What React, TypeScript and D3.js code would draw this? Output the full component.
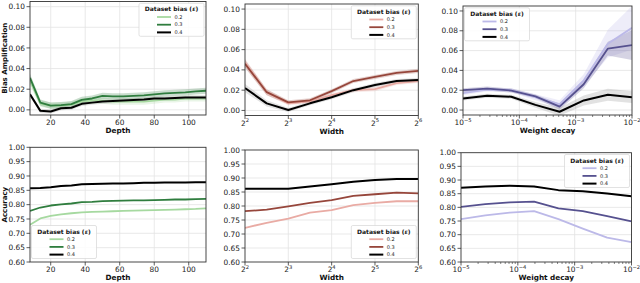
import React, { useEffect, useRef } from 'react';
import * as d3 from 'd3';

// x values
const depths = [8, 14, 20, 26, 32, 38, 44, 50, 56, 62, 68, 74, 80, 86, 92, 98, 104, 110];
const widths = [4, 5.66, 8, 11.31, 16, 22.63, 32, 45.25, 64];
const decays = [1e-5, 2.68e-5, 7.2e-5, 1.93e-4, 5.18e-4, 1.39e-3, 3.73e-3, 1e-2];

const biasLabels = ['0.2', '0.3', '0.4'];
const ampTicks = [0, 0.02, 0.04, 0.06, 0.08, 0.1];
const accTicks = [0.6, 0.65, 0.7, 0.75, 0.8, 0.85, 0.9, 0.95, 1.0];
const depthTicks = [20, 40, 60, 80, 100];
const widthTicks = [2, 3, 4, 5, 6];
const decayTicks = [-5, -4, -3, -2];

// bias amplification vs depth
const ampDepth02 = [0.028, 0.006, 0.004, 0.004, 0.005, 0.008, 0.009, 0.009, 0.008, 0.008, 0.008, 0.008, 0.009, 0.010, 0.010, 0.011, 0.011, 0.011];
const ampDepth03 = [0.031, 0.007, 0.004, 0.0045, 0.0055, 0.0097, 0.011, 0.0135, 0.013, 0.013, 0.0135, 0.014, 0.015, 0.016, 0.0165, 0.017, 0.0178, 0.0185];
const ampDepth04 = [0.015, -0.001, -0.0016, 0.0016, 0.002, 0.0058, 0.007, 0.008, 0.0085, 0.009, 0.0095, 0.010, 0.011, 0.011, 0.0115, 0.012, 0.012, 0.012];
const ampDepthErr = [0.004, 0.003, 0.003, 0.003, 0.003, 0.003, 0.003, 0.003, 0.003, 0.003, 0.003, 0.003, 0.003, 0.003, 0.003, 0.003, 0.003, 0.003];
const ampDepthErr04 = [0.002, 0.002, 0.002, 0.002, 0.002, 0.002, 0.002, 0.002, 0.002, 0.002, 0.002, 0.002, 0.002, 0.002, 0.002, 0.002, 0.002, 0.002];

// bias amplification vs width
const ampWidth02 = [0.047, 0.018, 0.007, 0.009, 0.015, 0.020, 0.021, 0.027, 0.029];
const ampWidth03 = [0.046, 0.018, 0.008, 0.010, 0.019, 0.029, 0.033, 0.037, 0.039];
const ampWidth04 = [0.022, 0.007, 0.0005, 0.007, 0.013, 0.020, 0.025, 0.029, 0.030];
const ampWidthErr = [0.004, 0.003, 0.002, 0.002, 0.002, 0.002, 0.002, 0.002, 0.002];

// bias amplification vs weight decay
const ampDecay02 = [0.017, 0.0207, 0.020, 0.013, 0.006, 0.030, 0.067, 0.083];
const ampDecay03 = [0.020, 0.0217, 0.0197, 0.0138, 0.0034, 0.026, 0.062, 0.0655];
const ampDecay04 = [0.0117, 0.0145, 0.0134, 0.0052, -0.0017, 0.0097, 0.0155, 0.013];
const ampDecayErr02 = [0.002, 0.002, 0.002, 0.003, 0.004, 0.006, 0.014, 0.022];
const ampDecayErr03 = [0.002, 0.002, 0.002, 0.002, 0.003, 0.004, 0.007, 0.015];
const ampDecayErr04 = [0.002, 0.002, 0.002, 0.003, 0.004, 0.005, 0.006, 0.006];

// accuracy vs depth
const accDepth02 = [0.730, 0.752, 0.761, 0.766, 0.770, 0.773, 0.775, 0.776, 0.777, 0.778, 0.779, 0.780, 0.781, 0.782, 0.783, 0.784, 0.785, 0.787];
const accDepth03 = [0.778, 0.790, 0.797, 0.801, 0.804, 0.809, 0.810, 0.812, 0.813, 0.814, 0.815, 0.815, 0.816, 0.817, 0.818, 0.818, 0.819, 0.820];
const accDepth04 = [0.857, 0.858, 0.861, 0.865, 0.867, 0.871, 0.872, 0.873, 0.874, 0.874, 0.875, 0.876, 0.876, 0.877, 0.877, 0.877, 0.878, 0.878];

// accuracy vs width
const accWidth02 = [0.722, 0.740, 0.755, 0.776, 0.785, 0.803, 0.811, 0.817, 0.817];
const accWidth03 = [0.7815, 0.787, 0.799, 0.811, 0.821, 0.836, 0.842, 0.848, 0.845];
const accWidth04 = [0.8615, 0.8615, 0.8615, 0.870, 0.878, 0.887, 0.8925, 0.896, 0.896];

// accuracy vs weight decay
const accDecay02 = [0.757, 0.771, 0.781, 0.786, 0.757, 0.722, 0.689, 0.673];
const accDecay03 = [0.802, 0.812, 0.818, 0.821, 0.796, 0.786, 0.768, 0.749];
const accDecay04 = [0.8716, 0.876, 0.879, 0.876, 0.863, 0.859, 0.851, 0.841];

const greens = ['#a6d9a0', '#2f7d3e', '#000000'];
const reds = ['#e9aba4', '#96463b', '#000000'];
const purples = ['#bcb9e8', '#56518f', '#000000'];

const FONT = 'DejaVu Sans, sans-serif';

function Figure() {
  const ref = useRef(null);

  useEffect(() => {
    const svg = d3.select(ref.current);
    svg.selectAll('*').remove();

    const panels = [
      { id: 'p1', box: [30, 206, 1.5, 115], xs: depths, kind: 'lin', xdom: [8, 110], ydom: [-0.005, 0.105], yTicks: ampTicks,
        series: [ampDepth02, ampDepth03, ampDepth04], errs: [ampDepthErr, ampDepthErr, ampDepthErr04], colors: greens, xlabel: 'Depth', ylabel: 'Bias Amplification', legend: 'tr' },
      { id: 'p2', box: [245, 418.3, 4, 115.5], xs: widths, kind: 'log2', xdom: [4, 64], ydom: [-0.005, 0.105], yTicks: ampTicks,
        series: [ampWidth02, ampWidth03, ampWidth04], errs: [ampWidthErr, ampWidthErr, ampWidthErr], colors: reds, xlabel: 'Width', legend: 'tr' },
      { id: 'p3', box: [463, 632, 6, 115], xs: decays, kind: 'log10', xdom: [1e-5, 1e-2], ydom: [-0.005, 0.105], yTicks: ampTicks,
        series: [ampDecay02, ampDecay03, ampDecay04], errs: [ampDecayErr02, ampDecayErr03, ampDecayErr04], colors: purples, xlabel: 'Weight decay', legend: 'tl' },
      { id: 'p4', box: [30, 206, 147.3, 262], xs: depths, kind: 'lin', xdom: [8, 110], ydom: [0.6, 1.0], yTicks: accTicks,
        series: [accDepth02, accDepth03, accDepth04], errs: null, colors: greens, xlabel: 'Depth', ylabel: 'Accuracy', legend: 'bl' },
      { id: 'p5', box: [245, 418.3, 150, 262], xs: widths, kind: 'log2', xdom: [4, 64], ydom: [0.6, 1.0], yTicks: accTicks,
        series: [accWidth02, accWidth03, accWidth04], errs: null, colors: reds, xlabel: 'Width', legend: 'br' },
      { id: 'p6', box: [461, 631.5, 152.7, 262], xs: decays, kind: 'log10', xdom: [1e-5, 1e-2], ydom: [0.6, 1.0], yTicks: accTicks,
        series: [accDecay02, accDecay03, accDecay04], errs: null, colors: purples, xlabel: 'Weight decay', legend: 'tr' },
    ];
    const yFmt = d3.format('.2f');

    panels.forEach(p => {
      const [x0, x1, y0, y1] = p.box;
      const x = p.kind === 'lin' ? d3.scaleLinear().domain(p.xdom).range([x0, x1])
        : d3.scaleLog().base(p.kind === 'log2' ? 2 : 10).domain(p.xdom).range([x0, x1]);
      const y = d3.scaleLinear().domain(p.ydom).range([y1, y0]);
      const g = svg.append('g');

      g.append('clipPath').attr('id', 'clip-' + p.id)
        .append('rect').attr('x', x0).attr('y', y0).attr('width', x1 - x0).attr('height', y1 - y0);

      // major tick positions on x
      const xTickVals = p.kind === 'lin' ? depthTicks
        : p.kind === 'log2' ? widthTicks.map(e => Math.pow(2, e))
        : decayTicks.map(e => Math.pow(10, e));

      // grid
      g.append('g').selectAll('line').data(xTickVals.filter(v => x(v) > x0 + 0.5 && x(v) < x1 - 0.5)).join('line')
        .attr('x1', d => x(d)).attr('x2', d => x(d)).attr('y1', y0).attr('y2', y1)
        .attr('stroke', '#e3e3e3').attr('stroke-width', 0.8);
      g.append('g').selectAll('line').data(p.yTicks.filter(v => y(v) > y0 + 0.5 && y(v) < y1 - 0.5)).join('line')
        .attr('x1', x0).attr('x2', x1).attr('y1', d => y(d)).attr('y2', d => y(d))
        .attr('stroke', '#e3e3e3').attr('stroke-width', 0.8);

      const plot = g.append('g').attr('clip-path', `url(#clip-${p.id})`);

      // error bands
      if (p.errs) {
        p.series.forEach((s, i) => {
          const err = p.errs[i];
          const area = d3.area<number>()
            .x((_, j) => x(p.xs[j]))
            .y0((d, j) => y(d - err[j]))
            .y1((d, j) => y(d + err[j]));
          plot.append('path').attr('d', area(s))
            .attr('fill', i === 2 ? '#8a8a8a' : p.colors[i])
            .attr('fill-opacity', i === 2 ? 0.25 : 0.25)
            .attr('stroke', 'none');
        });
      }

      // lines
      p.series.forEach((s, i) => {
        const line = d3.line<number>().x((_, j) => x(p.xs[j])).y(d => y(d));
        plot.append('path').attr('d', line(s))
          .attr('fill', 'none')
          .attr('stroke', p.colors[i])
          .attr('stroke-width', i === 2 ? 2 : 1.8)
          .attr('stroke-linejoin', 'round');
      });

      // spines
      g.append('rect').attr('x', x0).attr('y', y0).attr('width', x1 - x0).attr('height', y1 - y0)
        .attr('fill', 'none').attr('stroke', '#333').attr('stroke-width', 0.9);

      // y ticks
      const yt = g.append('g');
      p.yTicks.forEach(v => {
        yt.append('line').attr('x1', x0 - 3.5).attr('x2', x0).attr('y1', y(v)).attr('y2', y(v))
          .attr('stroke', '#333').attr('stroke-width', 0.8);
        yt.append('text').attr('x', x0 - 5).attr('y', y(v)).attr('dy', '0.35em')
          .attr('text-anchor', 'end').style('font-family', FONT).style('font-size', '7.4px').style('fill', '#222')
          .text(yFmt(v));
      });

      // x ticks
      const xt = g.append('g');
      xTickVals.forEach((v, k) => {
        xt.append('line').attr('x1', x(v)).attr('x2', x(v)).attr('y1', y1).attr('y2', y1 + 3.5)
          .attr('stroke', '#333').attr('stroke-width', 0.8);
        const t = xt.append('text').attr('x', x(v)).attr('y', y1 + 10)
          .attr('text-anchor', 'middle').style('font-family', FONT).style('font-size', '7.4px').style('fill', '#222');
        if (p.kind === 'lin') {
          t.text(String(v));
        } else {
          const base = p.kind === 'log2' ? '2' : '10';
          const ex = p.kind === 'log2' ? widthTicks[k] : decayTicks[k];
          t.append('tspan').text(base);
          t.append('tspan').attr('dy', -3.2).style('font-size', '5.2px').text(ex < 0 ? '\u2212' + Math.abs(ex) : String(ex));
        }
      });
      if (p.kind === 'log10') {
        const minors = [];
        for (let e = -5; e < -2; e++) for (let m = 2; m <= 9; m++) minors.push(m * Math.pow(10, e));
        xt.selectAll('line.minor').data(minors).join('line').attr('class', 'minor')
          .attr('x1', d => x(d)).attr('x2', d => x(d)).attr('y1', y1).attr('y2', y1 + 2)
          .attr('stroke', '#333').attr('stroke-width', 0.6);
      }

      // axis labels
      g.append('text').attr('x', (x0 + x1) / 2).attr('y', y1 + 18.3)
        .attr('text-anchor', 'middle').style('font-family', FONT).style('font-size', '7.3px')
        .style('font-weight', 'bold').style('fill', '#111').text(p.xlabel);
      if (p.ylabel) {
        g.append('text').attr('transform', `translate(7.3,${(y0 + y1) / 2}) rotate(-90)`)
          .attr('text-anchor', 'middle').style('font-family', FONT).style('font-size', '7px')
          .style('font-weight', 'bold').style('fill', '#111').text(p.ylabel);
      }

      // legend
      const lw = 65, lh = 33;
      const lx = p.legend[1] === 'r' ? x1 - 2 - lw : x0 + 1.5;
      const ly = p.legend[0] === 't' ? y0 + 1.8 : y1 - 3.5 - lh;
      const lg = g.append('g').attr('transform', `translate(${lx},${ly})`);
      lg.append('rect').attr('width', lw).attr('height', lh).attr('rx', 1.5)
        .attr('fill', 'white').attr('fill-opacity', 0.85).attr('stroke', '#d6d6d6').attr('stroke-width', 0.7);
      const title = lg.append('text').attr('x', lw / 2).attr('y', 8.2).attr('text-anchor', 'middle')
        .style('font-family', FONT).style('font-size', '6px').style('font-weight', 'bold').style('fill', '#111');
      title.append('tspan').text('Dataset bias (');
      title.append('tspan').style('font-style', 'italic').text('\u03b5');
      title.append('tspan').text(')');
      biasLabels.forEach((lab, i) => {
        const cy = 13.7 + i * 7.7;
        lg.append('line').attr('x1', 18).attr('x2', 32).attr('y1', cy).attr('y2', cy)
          .attr('stroke', p.colors[i]).attr('stroke-width', i === 2 ? 2 : 1.8);
        lg.append('text').attr('x', 35.5).attr('y', cy).attr('dy', '0.35em')
          .style('font-family', FONT).style('font-size', '5px').style('fill', '#222').text(lab);
      });
    });
  }, []);

  return <svg ref={ref} width={640} height={283} style={{ display: 'block' }} />;
}

export default function App() {
  return (
    <div style={{ position: 'absolute', left: 0, top: 0, width: 640, height: 283, background: 'white' }}>
      <Figure />
    </div>
  );
}
